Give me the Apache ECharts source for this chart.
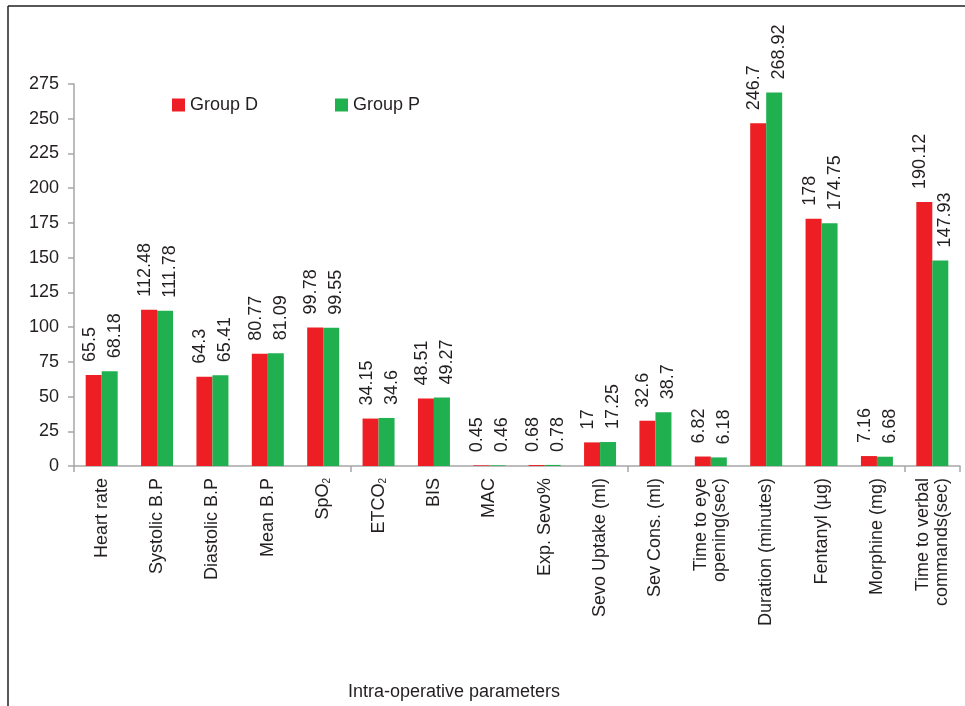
<!DOCTYPE html>
<html>
<head>
<meta charset="utf-8">
<script src="https://cdn.jsdelivr.net/npm/echarts@6/dist/echarts.min.js"></script>
<style>
html,body{margin:0;padding:0;background:#fff;}
#main{width:965px;height:706px;}
</style>
</head>
<body>
<div id="main"></div>
<script>
const categories = [
  "Heart rate", "Systolic B.P", "Diastolic B.P", "Mean B.P", "SpO2", "ETCO2",
  "BIS", "MAC", "Exp. Sevo%", "Sevo Uptake (ml)", "Sev Cons. (ml)",
  "Time to eye\nopening(sec)", "Duration (minutes)", "Fentanyl (\u00b5g)",
  "Morphine (mg)", "Time to verbal\ncommands(sec)"
];
const groupD = [65.5, 112.48, 64.3, 80.77, 99.78, 34.15, 48.51, 0.45, 0.68, 17, 32.6, 6.82, 246.7, 178, 7.16, 190.12];
const groupP = [68.18, 111.78, 65.41, 81.09, 99.55, 34.6, 49.27, 0.46, 0.78, 17.25, 38.7, 6.18, 268.92, 174.75, 6.68, 147.93];
const seriesNames = ["Group D", "Group P"];
const yTicks = { min: 0, max: 275, interval: 25 };
const axisTitle = "Intra-operative parameters";

const FONT = "Liberation Sans, Arial, sans-serif";
const FS = 18;
const TXT = "#231f20";
const chart = echarts.init(document.getElementById('main'), null, { renderer: 'canvas' });

function fmtCat(v) {
  if (v === "SpO2") return "SpO{sub|2}";
  if (v === "ETCO2") return "ETCO{sub|2}";
  return v;
}

function labelCfg(dx) {
  return {
    show: true,
    position: 'top',
    rotate: 90,
    align: 'left',
    verticalAlign: 'middle',
    distance: 13,
    offset: [0, dx],
    fontFamily: FONT,
    fontSize: FS,
    color: TXT,
    formatter: p => String(p.value)
  };
}

chart.setOption({
  animation: false,
  backgroundColor: '#fff',
  textStyle: { fontFamily: FONT },
  grid: { left: 74, right: 5, top: 84, bottom: 240, containLabel: false },
  legend: {
    left: 167, top: 91,
    itemWidth: 13, itemHeight: 13, itemGap: 77,
    icon: 'rect',
    textStyle: { fontFamily: FONT, fontSize: FS, color: TXT },
    data: seriesNames
  },
  title: {
    text: axisTitle,
    left: 343, top: 678,
    textStyle: { fontFamily: FONT, fontSize: FS, fontWeight: 'normal', color: TXT }
  },
  xAxis: {
    type: 'category',
    data: categories,
    axisLine: { lineStyle: { color: '#a6a6a6', width: 1.5 } },
    axisTick: { show: true, interval: 4, length: 6, lineStyle: { color: '#a6a6a6', width: 1.5 } },
    axisLabel: {
      interval: 0, rotate: 90, margin: 12,
      fontFamily: FONT, fontSize: FS, color: TXT, lineHeight: 19,
      formatter: fmtCat,
      rich: { sub: { fontSize: 10, fontFamily: FONT, color: TXT, verticalAlign: 'bottom', lineHeight: 19 } }
    },
    splitLine: { show: false }
  },
  yAxis: {
    type: 'value',
    min: yTicks.min, max: yTicks.max, interval: yTicks.interval,
    axisLine: { show: true, lineStyle: { color: '#a6a6a6', width: 1.5 } },
    axisTick: { show: true, length: 6, lineStyle: { color: '#a6a6a6', width: 1.5 } },
    axisLabel: { fontFamily: FONT, fontSize: FS, color: TXT, margin: 15 },
    splitLine: { show: false }
  },
  series: [
    {
      name: seriesNames[0], type: 'bar', data: groupD,
      barWidth: 16, barGap: '0%',
      itemStyle: { color: '#ed1f24' },
      label: labelCfg(-4)
    },
    {
      name: seriesNames[1], type: 'bar', data: groupP,
      barWidth: 16, barGap: '0%',
      itemStyle: { color: '#20b04f' },
      label: labelCfg(5)
    }
  ],
  graphic: [
    { type: 'line', shape: { x1: 8, y1: 6, x2: 965, y2: 6 }, style: { stroke: '#231f20', lineWidth: 1.5 } },
    { type: 'line', shape: { x1: 8, y1: 6, x2: 8, y2: 706 }, style: { stroke: '#231f20', lineWidth: 1.5 } }
  ]
});
</script>
</body>
</html>
